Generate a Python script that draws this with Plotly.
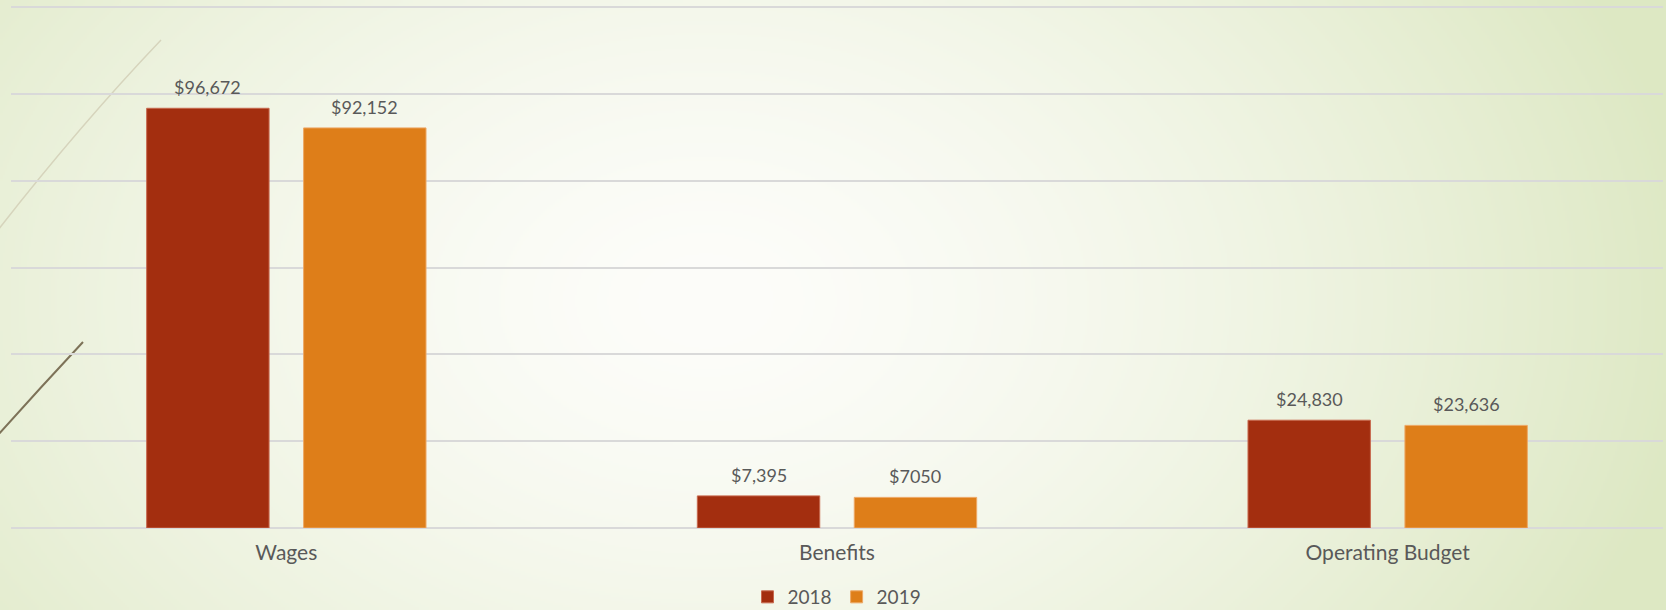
import base64
import struct
import zlib

import numpy as np
import plotly.graph_objects as go

# Data
categories = ["Wages", "Benefits", "Operating Budget"]
values_2018 = [96672, 7395, 24830]
values_2019 = [92152, 7050, 23636]
labels_2018 = ["$96,672", "$7,395", "$24,830"]
labels_2019 = ["$92,152", "$7050", "$23,636"]

W, H = 1666, 610
ML, MR, MT, MB = 11, 3, 3, 82
PW, PH = W - ML - MR, H - MT - MB
YMAX = 120000 * PH / 521  # keep the 120,000 gridline just inside the top

BARGAP = 0.43
FONT = "Century Gothic, Lato, sans-serif"
TEXT = "#595959"


def background_uri(w=833, h=305):
    # soft radial gradient: near white centre, pale green edges
    ys, xs = np.mgrid[0:h, 0:w]
    px = xs * W / w
    py = ys * H / h
    d = np.sqrt(((px - 705) / 1000) ** 2 + ((py - 300) / 700) ** 2)
    t = np.clip(d, 0, 1) ** 1.5
    inner = np.array([253, 253, 250], float)
    outer = np.array([221, 232, 195], float)
    img = inner + (outer - inner) * t[..., None]
    img = img.astype(np.uint8)
    raw = b"".join(b"\x00" + row.tobytes() for row in img)

    def chunk(tag, data):
        return (struct.pack(">I", len(data)) + tag + data
                + struct.pack(">I", zlib.crc32(tag + data) & 0xffffffff))

    png = (b"\x89PNG\r\n\x1a\n"
           + chunk(b"IHDR", struct.pack(">IIBBBBB", w, h, 8, 2, 0, 0, 0))
           + chunk(b"IDAT", zlib.compress(raw, 9))
           + chunk(b"IEND", b""))
    return "data:image/png;base64," + base64.b64encode(png).decode()


def px2paper(x, y):
    return (x - ML) / PW, 1 - (y - MT) / PH


def path(points):
    p = [px2paper(x, y) for x, y in points]
    return "M{},{} Q{},{} {},{}".format(*p[0], *p[1], *p[2])


fig = go.Figure()

fig.add_trace(go.Bar(
    x=categories, y=values_2018, name="2018",
    marker=dict(color="#A32E0F", line=dict(color="#C8694E", width=1)),
))
fig.add_trace(go.Bar(
    x=categories, y=values_2019, name="2019",
    marker=dict(color="#DE7E19", line=dict(color="#EDA866", width=1)),
))

# value labels above each bar (offset to each bar of the group)
half_slot = (1 - BARGAP) * PW / len(categories) / 4
annotations = []
for vals, labs, side in [(values_2018, labels_2018, -1), (values_2019, labels_2019, 1)]:
    for cat, v, lab in zip(categories, vals, labs):
        annotations.append(dict(
            x=cat, y=v, text=lab, showarrow=False,
            xshift=side * half_slot, yshift=21, yanchor="middle",
            font=dict(size=18, color=TEXT, family=FONT),
        ))

fig.update_layout(
    width=W, height=H,
    margin=dict(l=ML, r=MR, t=MT, b=MB, autoexpand=False),
    paper_bgcolor="#f4f7ec",
    plot_bgcolor="rgba(0,0,0,0)",
    barmode="group",
    bargap=BARGAP,
    bargroupgap=0.22,
    font=dict(family=FONT, color=TEXT, size=19),
    showlegend=True,
    legend=dict(
        orientation="h", x=0.5, xanchor="center",
        y=1 - (597 - MT) / PH, yanchor="middle",
        font=dict(size=19, color=TEXT, family=FONT),
        bgcolor="rgba(0,0,0,0)", itemwidth=30,
    ),
    xaxis=dict(showline=False, ticks="", tickfont=dict(size=21, color=TEXT),
               ticklabelstandoff=10),
    yaxis=dict(range=[0, YMAX], dtick=20000, showticklabels=False,
               gridcolor="#d9d9d9", gridwidth=1.5,
               zeroline=True, zerolinecolor="#d9d9d9", zerolinewidth=1.5),
    annotations=annotations,
    images=[dict(
        source=background_uri(), xref="paper", yref="paper",
        x=-ML / PW, y=1 + MT / PH, sizex=W / PW, sizey=H / PH,
        xanchor="left", yanchor="top", sizing="stretch", layer="below",
    )],
    shapes=[
        dict(type="path", xref="paper", yref="paper", layer="below",
             path=path([(-2, 230), (80, 125), (161, 40)]),
             line=dict(color="#d6d4bc", width=1.5)),
        dict(type="path", xref="paper", yref="paper", layer="below",
             path=path([(-2, 435), (40, 388), (83, 342)]),
             line=dict(color="#7d7258", width=2)),
    ],
)

fig.write_html("out.html", config={"displayModeBar": False},
               post_script="document.body.style.margin='0';")
